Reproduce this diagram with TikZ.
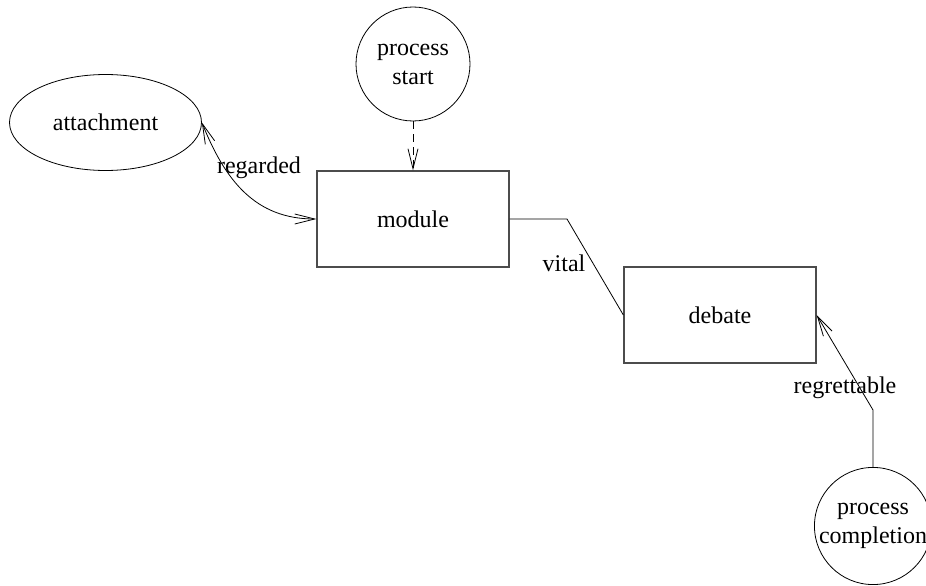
\documentclass[tikz,border=0pt]{standalone}
\usepackage{fontspec}
\setmainfont{Liberation Serif}
\usetikzlibrary{shapes.geometric,arrows.meta}
\tikzset{
  every node/.style={font=\fontsize{24}{29}\selectfont},
  box/.style={draw=black!70, line width=1.3pt, rectangle, minimum width=192pt, minimum height=96pt, inner sep=0pt},
  endcircle/.style={draw, line width=0.8pt, circle, minimum size=114pt, inner sep=0pt, align=center},
  oval/.style={draw, line width=0.8pt, ellipse, minimum width=192pt, minimum height=96pt, inner sep=0pt},
  edge/.style={line width=0.8pt},
  tip/.style={Straight Barb[length=20pt,width=10pt]},
  lbl/.style={inner sep=0pt}
}
\begin{document}
\begin{tikzpicture}[x=1pt,y=-1pt]
\useasboundingbox (0,0) rectangle (926,586);
\node[oval] (attachment) at (105.5,122.5) {attachment};
\node[endcircle] (start) at (413,64) {process\\start};
\node[box] (module) at (413,219) {module};
\node[box] (debate) at (720,315) {debate};
\node[endcircle] (completion) at (873,526) {process\\completion};
\coordinate (vbend) at (567,219);
\coordinate (rbend) at (873,410);
\draw[edge, {Straight Barb[length=20pt,width=10pt]}-{Straight Barb[length=20pt,width=10pt]}] (attachment.east) .. controls (225,180) and (255,219) .. (module.west);
\draw[edge, dashed, dash pattern=on 8pt off 5pt, -{Straight Barb[length=20pt,width=10pt]}] (start.south) -- (module.north);
\draw[edge] (module.east) -- (vbend) -- (debate.west);
\draw[edge, -{Straight Barb[length=20pt,width=10pt]}] (completion.north) -- (rbend) -- (debate.east);
\node[lbl] (lregarded) at (259,168) {regarded};
\node[lbl] (lvital) at (564,263) {vital};
\node[lbl] (lregret) at (845,388) {regrettable};
\end{tikzpicture}
\end{document}
